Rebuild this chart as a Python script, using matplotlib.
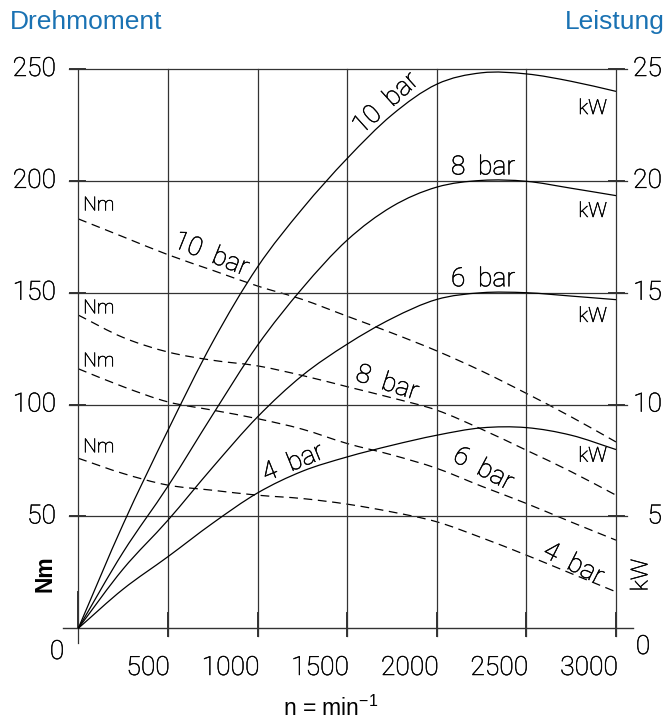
import matplotlib
matplotlib.use('Agg')
import matplotlib.pyplot as plt
import matplotlib.transforms as mt
import matplotlib.patheffects as pe
from matplotlib.path import Path
from matplotlib.patches import PathPatch

# ---------------- data ----------------
rpm = [0, 250, 500, 750, 1000, 1250, 1500, 1750, 2000, 2250, 2500, 2750, 3000]

power_10 = [0, 4.65, 8.85, 12.8, 16.15, 18.75, 21.0, 22.95, 24.32, 24.83, 24.78, 24.45, 24.0]
power_8 = [0, 3.4, 6.35, 9.55, 12.65, 15.2, 17.35, 18.85, 19.72, 20.02, 19.98, 19.67, 19.34]
power_6 = [0, 2.65, 4.83, 7.2, 9.45, 11.3, 12.7, 13.85, 14.7, 15.0, 15.0, 14.85, 14.69]
power_4 = [0, 1.75, 3.2, 4.7, 6.05, 7.02, 7.66, 8.18, 8.63, 8.96, 8.97, 8.63, 7.99]

torque_10 = [183, 175, 167, 160, 153, 147, 139.5, 132, 124, 115, 105, 94.5, 83.3]
torque_8 = [140, 130, 123.5, 119.8, 117.3, 113, 108, 103, 97.5, 89, 79.6, 70, 59.5]
torque_6 = [116, 108, 101.2, 97.5, 93.7, 89, 82.6, 77.5, 71.5, 63.5, 55.8, 47.5, 39.4]
torque_4 = [76, 69.2, 64, 61.7, 59.5, 58, 55.5, 52, 47.6, 40.5, 32.7, 24.5, 16.3]

x_ticks = [500, 1000, 1500, 2000, 2500, 3000]
nm_ticks = [50, 100, 150, 200, 250]
kw_ticks = [5, 10, 15, 20, 25]

label_bar = ["10  bar", "8  bar", "6  bar", "4  bar"]
title_left = "Drehmoment"
title_right = "Leistung"
xlabel = r"n = min$^{\mathregular{-1}}$"

BLUE = "#1a72b3"
GRID = "#333333"
LIGHT = dict(family=["Roboto", "DejaVu Sans"], weight="light", color="black",
             path_effects=[pe.withStroke(linewidth=0.35, foreground="black")])

plt.rcParams['mathtext.fontset'] = 'custom'
plt.rcParams['mathtext.rm'] = 'Liberation Sans'


def smooth_path(xs, ys):
    """Catmull-Rom curve through the given points, as cubic Bezier segments."""
    n = len(xs)
    tx, ty = [], []
    for i in range(n):
        a = max(i - 1, 0)
        b = min(i + 1, n - 1)
        tx.append((xs[b] - xs[a]) / (b - a))
        ty.append((ys[b] - ys[a]) / (b - a))
    verts = [(xs[0], ys[0])]
    codes = [Path.MOVETO]
    for i in range(n - 1):
        verts += [(xs[i] + tx[i] / 3, ys[i] + ty[i] / 3),
                  (xs[i + 1] - tx[i + 1] / 3, ys[i + 1] - ty[i + 1] / 3),
                  (xs[i + 1], ys[i + 1])]
        codes += [Path.CURVE4] * 3
    return Path(verts, codes)


W, H = 670, 722
fig = plt.figure(figsize=(W / 100, H / 100), dpi=100)
x0, x1, y0, y1 = 78.3, 616.0, 628.3, 69.0
ax = fig.add_axes([x0 / W, 1 - y0 / H, (x1 - x0) / W, (y0 - y1) / H])
ax.set_xlim(0, 3000)
ax.set_ylim(0, 250)
ax.axis('off')
ax2 = ax.twinx()
ax2.set_ylim(0, 25)
ax2.axis('off')

ytr = ax.get_yaxis_transform()
xtr = ax.get_xaxis_transform()

# grid lines
for v in nm_ticks:
    ax.plot([-0.017, 1.02], [v, v], transform=ytr, color=GRID, lw=0.9, clip_on=False)
    ax.plot([-0.015, 0.013], [v, v], transform=ytr, color=GRID, lw=1.4, clip_on=False)
    ax.plot([0.987, 1.015], [v, v], transform=ytr, color=GRID, lw=1.4, clip_on=False)
ax.plot([-0.028, 1.031], [0, 0], transform=ytr, color=GRID, lw=1.0, clip_on=False)
for xv in x_ticks:
    ax.plot([xv, xv], [-0.014, 1], transform=xtr, color=GRID, lw=0.9, clip_on=False)
    ax.plot([xv, xv], [-0.014, 0.028], transform=xtr, color=GRID, lw=1.4, clip_on=False)
ax.plot([0, 0], [-0.026, 1], transform=xtr, color=GRID, lw=0.9, clip_on=False)
ax.plot([0, 0], [0, 0.065], transform=xtr, color=GRID, lw=1.4, clip_on=False)

# curves
for p in [power_10, power_8, power_6, power_4]:
    ax2.add_patch(PathPatch(smooth_path(rpm, p), fill=False, edgecolor='black',
                            lw=0.9, clip_on=False))
for t in [torque_10, torque_8, torque_6, torque_4]:
    ax.add_patch(PathPatch(smooth_path(rpm, t), fill=False, edgecolor='black',
                           lw=0.9, linestyle=(0, (7.0, 4.5)), clip_on=False))

# tick labels
fsz = 19
left_tr = mt.blended_transform_factory(fig.transFigure, ax.transData)
right_tr = mt.blended_transform_factory(fig.transFigure, ax2.transData)
for v in nm_ticks:
    ax.text(56 / W, v, str(v), transform=left_tr, ha='right', va='center',
            fontsize=fsz, **LIGHT)
for v in kw_ticks:
    ax2.text(662 / W, v, str(v), transform=right_tr, ha='right', va='center',
             fontsize=fsz, **LIGHT)
fig.text(57 / W, 1 - 652 / H, "0", ha='center', va='center', fontsize=fsz, **LIGHT)
fig.text(643 / W, 1 - 647 / H, "0", ha='center', va='center', fontsize=fsz, **LIGHT)
bot_tr = mt.blended_transform_factory(ax.transData, fig.transFigure)
for xv in x_ticks:
    ax.text(xv + 10, 1 - 668 / H, str(xv), transform=bot_tr, ha='right', va='center',
            fontsize=fsz, **LIGHT)

# titles
fig.text(10 / W, 1 - 22 / H, title_left, ha='left', va='center', color=BLUE,
         fontsize=19, family='Liberation Sans')
fig.text(665 / W, 1 - 22 / H, title_right, ha='right', va='center', color=BLUE,
         fontsize=19, family='Liberation Sans')
fig.text(45 / W, 1 - 574 / H, "Nm", rotation=90, ha='center', va='center',
         fontsize=16.5, weight='bold', family='Liberation Sans')
fig.text(641 / W, 1 - 575 / H, "kW", rotation=90, ha='center', va='center',
         fontsize=17, **LIGHT)
fig.text(331 / W, 1 - 708 / H, xlabel, ha='center', va='center', fontsize=16.5,
         family='Liberation Sans')

# curve labels
lsz = 19
ax.text(1717, 234.5, label_bar[0], rotation=42, rotation_mode='anchor', ha='center',
        va='center', fontsize=lsz, **LIGHT)
ax.text(2258, 206, label_bar[1], ha='center', va='center', fontsize=lsz, **LIGHT)
ax.text(2258, 156, label_bar[2], ha='center', va='center', fontsize=lsz, **LIGHT)
ax.text(1198, 73.8, label_bar[3], rotation=22, rotation_mode='anchor', ha='center',
        va='center', fontsize=lsz, **LIGHT)
ax.text(740, 167, label_bar[0], rotation=-22, rotation_mode='anchor', ha='center',
        va='center', fontsize=lsz, **LIGHT)
ax.text(1722, 109.5, label_bar[1], rotation=-18, rotation_mode='anchor', ha='center',
        va='center', fontsize=lsz, **LIGHT)
ax.text(2258, 71.1, label_bar[2], rotation=-28, rotation_mode='anchor', ha='center',
        va='center', fontsize=lsz, **LIGHT)
ax.text(2761, 28.7, label_bar[3], rotation=-27, rotation_mode='anchor', ha='center',
        va='center', fontsize=lsz, **LIGHT)

for yv in [189, 143, 119.3, 80.9]:
    ax.text(27, yv, "Nm", ha='left', va='center', fontsize=14, **LIGHT)
for yv in [232.3, 186.3, 139.4, 76.9]:
    ax.text(2950, yv, "kW", ha='right', va='center', fontsize=15, **LIGHT)

fig.savefig("out.png", dpi=100, facecolor='white')
